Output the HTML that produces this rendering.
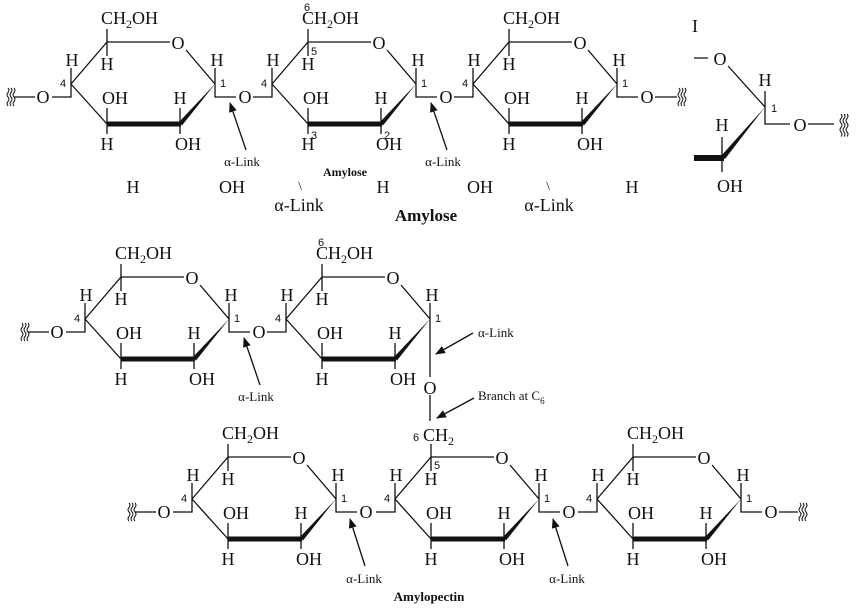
<!DOCTYPE html>
<html><head><meta charset="utf-8"><style>
html,body{margin:0;padding:0;background:#fff;}
svg{display:block;stroke-width:1.3;}
text{font-family:"Liberation Serif",serif;font-size:18px;fill:#111;stroke:none;}
.n{font-family:"Liberation Sans",sans-serif;font-size:11px;}
.c{text-anchor:middle;}
.s{font-size:13px;}
.b{font-weight:bold;}
path,line{stroke:#111;fill:none;}
polygon.f,path.f{fill:#111;stroke:none;}
</style></head><body>
<svg width="857" height="612" viewBox="0 0 857 612" xmlns="http://www.w3.org/2000/svg">
<defs>
<marker id="ar" markerWidth="10" markerHeight="10" refX="9" refY="5" orient="auto" markerUnits="userSpaceOnUse"><path d="M0,1 L10,5 L0,9 Z" class="f"/></marker>
</defs>

<!-- ===== AMYLOSE ROW ===== -->
<g>
<path d="M71,84 L107,42 L170,42 M186,50 L215,84 M107,124 L71,84 M107,29 V56 M71,68 V97 H52 M215,68 V97 H236 M107,108 V134 M180,108 V134"/>
<polygon points="215,84 179,122 182,125.5" class="f"/>
<line x1="107" y1="124" x2="181" y2="124" stroke-width="5"/>
<text x="101" y="24">CH<tspan font-size="12" dy="4">2</tspan><tspan dy="-4">OH</tspan></text>
<text x="178" y="49" class="c">O</text>
<text x="72" y="66" class="c">H</text><text x="60" y="87" class="n">4</text>
<text x="107" y="70" class="c">H</text>
<text x="115" y="104" class="c">OH</text><text x="107" y="150" class="c">H</text>
<text x="180" y="104" class="c">H</text><text x="188" y="150" class="c">OH</text>
<text x="217" y="66" class="c">H</text><text x="220" y="87" class="n">1</text>
<text x="245" y="103" class="c">O</text>
<line x1="246" y1="150" x2="230" y2="103" marker-end="url(#ar)"/>
<text x="242" y="166" class="c s">α-Link</text>
</g>
<text x="43" y="103" class="c">O</text>
<path d="M14,97 H35"/>
<path d="M8,88 q2,2.25 0,4.5 q-2,2.25 0,4.5 q2,2.25 0,4.5 q-2,2.25 0,4.5 M11,88 q2,2.25 0,4.5 q-2,2.25 0,4.5 q2,2.25 0,4.5 q-2,2.25 0,4.5 M14,88 q2,2.25 0,4.5 q-2,2.25 0,4.5 q2,2.25 0,4.5 q-2,2.25 0,4.5" stroke-width="1"/>

<g transform="translate(201,0)">
<path d="M71,84 L107,42 L170,42 M186,50 L215,84 M107,124 L71,84 M107,29 V56 M71,68 V97 H52 M215,68 V97 H236 M107,108 V134 M180,108 V134"/>
<polygon points="215,84 179,122 182,125.5" class="f"/>
<line x1="107" y1="124" x2="181" y2="124" stroke-width="5"/>
<text x="101" y="24">CH<tspan font-size="12" dy="4">2</tspan><tspan dy="-4">OH</tspan></text>
<text x="103" y="11" class="n">6</text><text x="110" y="55" class="n">5</text>
<text x="110" y="139" class="n">3</text><text x="183" y="139" class="n">2</text>
<text x="178" y="49" class="c">O</text>
<text x="72" y="66" class="c">H</text><text x="60" y="87" class="n">4</text>
<text x="107" y="70" class="c">H</text>
<text x="115" y="104" class="c">OH</text><text x="107" y="150" class="c">H</text>
<text x="180" y="104" class="c">H</text><text x="188" y="150" class="c">OH</text>
<text x="217" y="66" class="c">H</text><text x="220" y="87" class="n">1</text>
<text x="245" y="103" class="c">O</text>
<line x1="246" y1="150" x2="230" y2="103" marker-end="url(#ar)"/>
<text x="242" y="166" class="c s">α-Link</text>
</g>

<g transform="translate(402,0)">
<path d="M71,84 L107,42 L170,42 M186,50 L215,84 M107,124 L71,84 M107,29 V56 M71,68 V97 H52 M215,68 V97 H236 M107,108 V134 M180,108 V134 M253,97 H275"/>
<polygon points="215,84 179,122 182,125.5" class="f"/>
<line x1="107" y1="124" x2="181" y2="124" stroke-width="5"/>
<text x="101" y="24">CH<tspan font-size="12" dy="4">2</tspan><tspan dy="-4">OH</tspan></text>
<text x="178" y="49" class="c">O</text>
<text x="72" y="66" class="c">H</text><text x="60" y="87" class="n">4</text>
<text x="107" y="70" class="c">H</text>
<text x="115" y="104" class="c">OH</text><text x="107" y="150" class="c">H</text>
<text x="180" y="104" class="c">H</text><text x="188" y="150" class="c">OH</text>
<text x="217" y="66" class="c">H</text><text x="220" y="87" class="n">1</text>
<text x="245" y="103" class="c">O</text>
<path d="M277,88 q2,2.25 0,4.5 q-2,2.25 0,4.5 q2,2.25 0,4.5 q-2,2.25 0,4.5 M280,88 q2,2.25 0,4.5 q-2,2.25 0,4.5 q2,2.25 0,4.5 q-2,2.25 0,4.5 M283,88 q2,2.25 0,4.5 q-2,2.25 0,4.5 q2,2.25 0,4.5 q-2,2.25 0,4.5" stroke-width="1"/>
</g>

<text x="345" y="176" class="c b" style="font-size:12px">Amylose</text>

<g>
<text x="133" y="193" class="c">H</text>
<text x="232" y="193" class="c">OH</text>
<text x="300" y="190" class="c" style="font-size:13px">\</text>
<text x="383" y="193" class="c">H</text>
<text x="480" y="193" class="c">OH</text>
<text x="548" y="190" class="c" style="font-size:13px">\</text>
<text x="632" y="193" class="c">H</text>
<text x="299" y="211" class="c">α-Link</text>
<text x="549" y="211" class="c">α-Link</text>
</g>
<text x="426" y="221" class="c b" style="font-size:17px">Amylose</text>

<!-- right fragment -->
<text x="695" y="32" class="c">I</text>
<path d="M694,58 H708 M728,66 L765,107 M765,91 V124 H790 M808,124 H834 M722,137 V172"/>
<text x="720" y="65" class="c">O</text>
<text x="765" y="86" class="c">H</text>
<text x="771" y="112" class="n">1</text>
<text x="800" y="131" class="c">O</text>
<polygon points="765,107 721,156 725,159" class="f"/>
<line x1="694" y1="158" x2="724" y2="158" stroke-width="6"/>
<text x="722" y="131" class="c">H</text>
<text x="730" y="192" class="c">OH</text>
<path d="M841,114 q2,2.25 0,4.5 q-2,2.25 0,4.5 q2,2.25 0,4.5 q-2,2.25 0,4.5 q2,2.25 0,4.5 M844,114 q2,2.25 0,4.5 q-2,2.25 0,4.5 q2,2.25 0,4.5 q-2,2.25 0,4.5 q2,2.25 0,4.5 M847,114 q2,2.25 0,4.5 q-2,2.25 0,4.5 q2,2.25 0,4.5 q-2,2.25 0,4.5 q2,2.25 0,4.5" stroke-width="1"/>

<!-- ===== AMYLOPECTIN upper ===== -->
<g transform="translate(14,235)">
<path d="M71,84 L107,42 L170,42 M186,50 L215,84 M107,124 L71,84 M107,29 V56 M71,68 V97 H52 M215,68 V97 H236 M107,108 V134 M180,108 V134 M14,97 H35"/>
<polygon points="215,84 179,122 182,125.5" class="f"/>
<line x1="107" y1="124" x2="181" y2="124" stroke-width="5"/>
<text x="101" y="24">CH<tspan font-size="12" dy="4">2</tspan><tspan dy="-4">OH</tspan></text>
<text x="178" y="49" class="c">O</text>
<text x="72" y="66" class="c">H</text><text x="60" y="87" class="n">4</text>
<text x="107" y="70" class="c">H</text>
<text x="115" y="104" class="c">OH</text><text x="107" y="150" class="c">H</text>
<text x="180" y="104" class="c">H</text><text x="188" y="150" class="c">OH</text>
<text x="217" y="66" class="c">H</text><text x="220" y="87" class="n">1</text>
<text x="245" y="103" class="c">O</text>
<text x="43" y="103" class="c">O</text>
<path d="M8,88 q2,2.25 0,4.5 q-2,2.25 0,4.5 q2,2.25 0,4.5 q-2,2.25 0,4.5 M11,88 q2,2.25 0,4.5 q-2,2.25 0,4.5 q2,2.25 0,4.5 q-2,2.25 0,4.5 M14,88 q2,2.25 0,4.5 q-2,2.25 0,4.5 q2,2.25 0,4.5 q-2,2.25 0,4.5" stroke-width="1"/>
<line x1="246" y1="150" x2="230" y2="103" marker-end="url(#ar)"/>
<text x="242" y="166" class="c s">α-Link</text>
</g>

<g transform="translate(215,235)">
<path d="M71,84 L107,42 L170,42 M186,50 L215,84 M107,124 L71,84 M107,29 V56 M71,68 V97 H52 M215,68 V142 M215,160 V186 M107,108 V134 M180,108 V134"/>
<polygon points="215,84 179,122 182,125.5" class="f"/>
<line x1="107" y1="124" x2="181" y2="124" stroke-width="5"/>
<text x="101" y="24">CH<tspan font-size="12" dy="4">2</tspan><tspan dy="-4">OH</tspan></text>
<text x="103" y="11" class="n">6</text>
<text x="178" y="49" class="c">O</text>
<text x="72" y="66" class="c">H</text><text x="60" y="87" class="n">4</text>
<text x="107" y="70" class="c">H</text>
<text x="115" y="104" class="c">OH</text><text x="107" y="150" class="c">H</text>
<text x="180" y="104" class="c">H</text><text x="188" y="150" class="c">OH</text>
<text x="217" y="66" class="c">H</text><text x="220" y="87" class="n">1</text>
<text x="215" y="159" class="c">O</text>
</g>
<line x1="473" y1="333" x2="436" y2="354" marker-end="url(#ar)"/>
<text x="478" y="337" class="s">α-Link</text>
<line x1="474" y1="398" x2="437" y2="418" marker-end="url(#ar)"/>
<text x="478" y="400" class="s">Branch at C<tspan font-size="9" dy="4">6</tspan></text>

<!-- ===== AMYLOPECTIN lower ===== -->
<g transform="translate(121,415)">
<path d="M71,84 L107,42 L170,42 M186,50 L215,84 M107,124 L71,84 M107,29 V56 M71,68 V97 H52 M215,68 V97 H236 M107,108 V134 M180,108 V134 M14,97 H35"/>
<polygon points="215,84 179,122 182,125.5" class="f"/>
<line x1="107" y1="124" x2="181" y2="124" stroke-width="5"/>
<text x="101" y="24">CH<tspan font-size="12" dy="4">2</tspan><tspan dy="-4">OH</tspan></text>
<text x="178" y="49" class="c">O</text>
<text x="72" y="66" class="c">H</text><text x="60" y="87" class="n">4</text>
<text x="107" y="70" class="c">H</text>
<text x="115" y="104" class="c">OH</text><text x="107" y="150" class="c">H</text>
<text x="180" y="104" class="c">H</text><text x="188" y="150" class="c">OH</text>
<text x="217" y="66" class="c">H</text><text x="220" y="87" class="n">1</text>
<text x="245" y="103" class="c">O</text>
<text x="43" y="103" class="c">O</text>
<path d="M8,88 q2,2.25 0,4.5 q-2,2.25 0,4.5 q2,2.25 0,4.5 q-2,2.25 0,4.5 M11,88 q2,2.25 0,4.5 q-2,2.25 0,4.5 q2,2.25 0,4.5 q-2,2.25 0,4.5 M14,88 q2,2.25 0,4.5 q-2,2.25 0,4.5 q2,2.25 0,4.5 q-2,2.25 0,4.5" stroke-width="1"/>
<line x1="244" y1="151" x2="229" y2="104" marker-end="url(#ar)"/>
<text x="243" y="168" class="c s">α-Link</text>
</g>

<g transform="translate(324,415)">
<path d="M71,84 L107,42 L170,42 M186,50 L215,84 M107,124 L71,84 M107,29 V56 M71,68 V97 H52 M215,68 V97 H236 M107,108 V134 M180,108 V134"/>
<polygon points="215,84 179,122 182,125.5" class="f"/>
<line x1="107" y1="124" x2="181" y2="124" stroke-width="5"/>
<text x="89" y="26" class="n">6</text>
<text x="99" y="26">CH<tspan font-size="12" dy="4">2</tspan></text>
<text x="110" y="54" class="n">5</text>
<text x="178" y="49" class="c">O</text>
<text x="72" y="66" class="c">H</text><text x="60" y="87" class="n">4</text>
<text x="107" y="70" class="c">H</text>
<text x="115" y="104" class="c">OH</text><text x="107" y="150" class="c">H</text>
<text x="180" y="104" class="c">H</text><text x="188" y="150" class="c">OH</text>
<text x="217" y="66" class="c">H</text><text x="220" y="87" class="n">1</text>
<text x="245" y="103" class="c">O</text>
<line x1="244" y1="151" x2="229" y2="104" marker-end="url(#ar)"/>
<text x="243" y="168" class="c s">α-Link</text>
</g>

<g transform="translate(526,415)">
<path d="M71,84 L107,42 L170,42 M186,50 L215,84 M107,124 L71,84 M107,29 V56 M71,68 V97 H52 M215,68 V97 H236 M107,108 V134 M180,108 V134 M253,97 H272"/>
<polygon points="215,84 179,122 182,125.5" class="f"/>
<line x1="107" y1="124" x2="181" y2="124" stroke-width="5"/>
<text x="101" y="24">CH<tspan font-size="12" dy="4">2</tspan><tspan dy="-4">OH</tspan></text>
<text x="178" y="49" class="c">O</text>
<text x="72" y="66" class="c">H</text><text x="60" y="87" class="n">4</text>
<text x="107" y="70" class="c">H</text>
<text x="115" y="104" class="c">OH</text><text x="107" y="150" class="c">H</text>
<text x="180" y="104" class="c">H</text><text x="188" y="150" class="c">OH</text>
<text x="217" y="66" class="c">H</text><text x="220" y="87" class="n">1</text>
<text x="245" y="103" class="c">O</text>
<path d="M274,88 q2,2.25 0,4.5 q-2,2.25 0,4.5 q2,2.25 0,4.5 q-2,2.25 0,4.5 M277,88 q2,2.25 0,4.5 q-2,2.25 0,4.5 q2,2.25 0,4.5 q-2,2.25 0,4.5 M280,88 q2,2.25 0,4.5 q-2,2.25 0,4.5 q2,2.25 0,4.5 q-2,2.25 0,4.5" stroke-width="1"/>
</g>

<text x="429" y="601" class="c b" style="font-size:13px">Amylopectin</text>
</svg>
</body></html>
